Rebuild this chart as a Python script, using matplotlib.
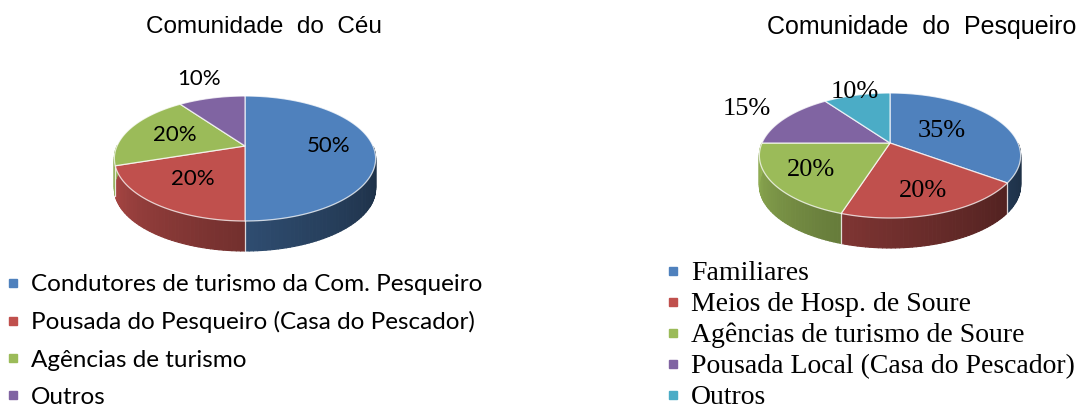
import numpy as np
import matplotlib
matplotlib.use('Agg')
import matplotlib.pyplot as plt
from matplotlib.patches import Polygon
from matplotlib.collections import PolyCollection
from matplotlib.lines import Line2D
from matplotlib.colors import to_rgb

# data
ceu_labels = ['Condutores de turismo da Com. Pesqueiro',
              'Pousada do Pesqueiro (Casa do Pescador)',
              'Agências de turismo',
              'Outros']
ceu_values = [50, 20, 20, 10]
ceu_colors = ['#4F81BD', '#C0504D', '#9BBB59', '#8064A2']

pesq_labels = ['Familiares',
               'Meios de Hosp. de Soure',
               'Agências de turismo de Soure',
               'Pousada Local (Casa do Pescador)',
               'Outros']
pesq_values = [35, 20, 20, 15, 10]
pesq_colors = ['#4F81BD', '#C0504D', '#9BBB59', '#8064A2', '#4BACC6']

# pixel-like canvas
fig = plt.figure(figsize=(10.78, 4.12), dpi=100)
ax = fig.add_axes([0, 0, 1, 1])
ax.set_xlim(0, 1078)
ax.set_ylim(412, 0)
ax.axis('off')


def proj(u, v, cx, cy, rx, ry, k):
    # simple perspective tilt: far side (v>0) a bit smaller
    s = 1.0 / (1.0 + k * v)
    return cx + rx * u * s, cy - ry * v * s


def pie3d(values, colors, cx, cy, label_r, lfont, lsize,
          rx=128, ry=60, k=0.2, depth=30):
    vals = np.array(values, dtype=float)
    bounds = 90 - 360 * np.concatenate([[0], np.cumsum(vals) / vals.sum()])

    # side wall (front half only), shaded by angle
    polys, fcs = [], []
    for i, c in enumerate(colors):
        base = np.array(to_rgb(c))
        n = max(int(abs(bounds[i] - bounds[i + 1]) / 1.5), 2)
        th = np.radians(np.linspace(bounds[i], bounds[i + 1], n))
        for t0, t1 in zip(th[:-1], th[1:]):
            tm = 0.5 * (t0 + t1)
            if np.sin(tm) >= 0:
                continue
            x0, y0 = proj(np.cos(t0), np.sin(t0), cx, cy, rx, ry, k)
            x1, y1 = proj(np.cos(t1), np.sin(t1), cx, cy, rx, ry, k)
            polys.append([(x0, y0), (x1, y1), (x1, y1 + depth), (x0, y0 + depth)])
            deg = np.degrees(tm) % 360
            f = 0.35 + 0.6 * ((360 - deg) / 180) ** 1.3
            fcs.append(np.clip(base * f, 0, 1))
    ax.add_collection(PolyCollection(polys, facecolors=fcs, edgecolors=fcs,
                                     linewidths=0.8, zorder=1))
    for b in bounds:
        t = np.radians(b)
        if np.sin(t) < -1e-6:
            x, y = proj(np.cos(t), np.sin(t), cx, cy, rx, ry, k)
            ax.plot([x, x], [y, y + depth], color='white', lw=0.9, alpha=0.8, zorder=2)

    # top face
    for i, c in enumerate(colors):
        th = np.radians(np.linspace(bounds[i], bounds[i + 1], 120))
        pts = [proj(0, 0, cx, cy, rx, ry, k)]
        pts += [proj(np.cos(t), np.sin(t), cx, cy, rx, ry, k) for t in th]
        ax.add_patch(Polygon(pts, closed=True, facecolor=c,
                             edgecolor=(1, 1, 1, 0.75), lw=0.9, zorder=3))

    # percentage labels
    for i, v in enumerate(values):
        m = np.radians(0.5 * (bounds[i] + bounds[i + 1]))
        r = label_r[i]
        x, y = proj(r * np.cos(m), r * np.sin(m), cx, cy, rx, ry, k)
        ax.text(x, y, '%d%%' % v, ha='center', va='center',
                family=lfont, fontsize=lsize, color='black', zorder=4)


pie3d(ceu_values, ceu_colors, 245, 146, [0.65, 0.62, 0.6, 1.5], 'Lato', 16)
pie3d(pesq_values, pesq_colors, 890, 143, [0.47, 0.72, 0.7, 1.42, 1.07],
      'Liberation Serif', 19)

ax.text(264, 27, 'Comunidade  do  Céu', ha='center', va='center',
        family='Liberation Sans', fontsize=17.5)
ax.text(922, 27, 'Comunidade  do  Pesqueiro', ha='center', va='center',
        family='Liberation Sans', fontsize=18)


def legend_handles(colors):
    return [Line2D([], [], marker='s', ls='', color=c, markersize=6) for c in colors]


leg1 = ax.legend(legend_handles(ceu_colors), ceu_labels, loc='upper left',
                 bbox_to_anchor=(4, 274), bbox_transform=ax.transData,
                 frameon=False, borderpad=0, borderaxespad=0,
                 handlelength=0.75, handletextpad=0.35, labelspacing=0.67,
                 prop={'family': 'Lato', 'size': 17.5})
ax.add_artist(leg1)
ax.legend(legend_handles(pesq_colors), pesq_labels, loc='upper left',
          bbox_to_anchor=(663, 261), bbox_transform=ax.transData,
          frameon=False, borderpad=0, borderaxespad=0,
          handlelength=0.7, handletextpad=0.3, labelspacing=0.2,
          prop={'family': 'Liberation Serif', 'size': 20})

plt.savefig('out.png', dpi=100)
